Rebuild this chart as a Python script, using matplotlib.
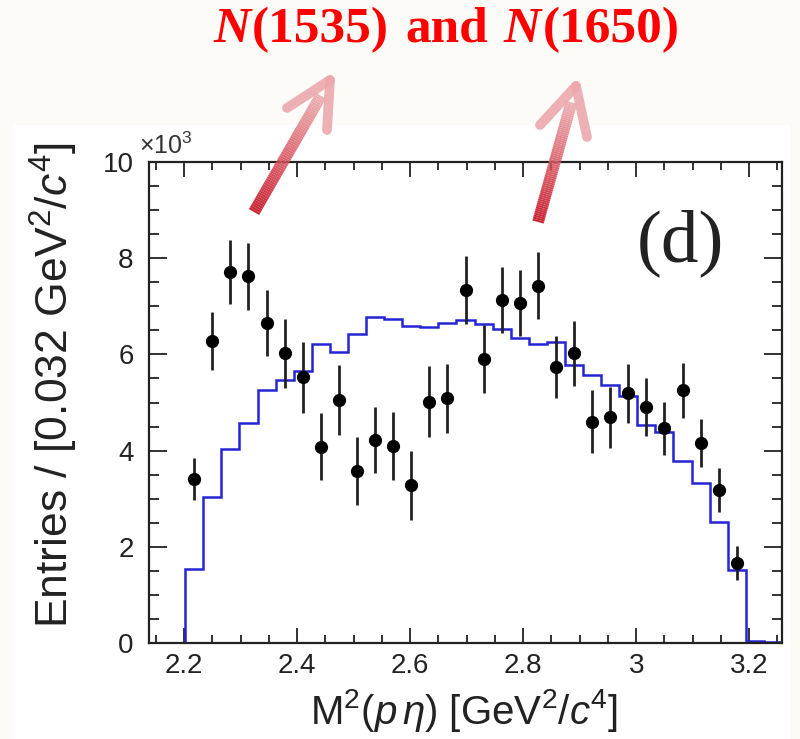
import matplotlib
matplotlib.use("Agg")
import matplotlib.pyplot as plt
import numpy as np
from matplotlib.collections import LineCollection
from matplotlib.colors import to_rgba
from matplotlib.patches import Rectangle

plt.rcParams["font.family"] = ["Liberation Sans", "DejaVu Sans"]
plt.rcParams["mathtext.fontset"] = "custom"
plt.rcParams["mathtext.rm"] = "Liberation Sans"
plt.rcParams["mathtext.it"] = "Liberation Sans:italic"

# M^2(p eta) binning: 35 bins of 0.032 GeV^2/c^4
bin_lo = 2.138
bin_width = 0.032
n_bins = 35

# phase-space MC (blue histogram), entries x10^3 per bin
mc_counts = [0.0, 0.0, 1.54, 3.04, 4.03, 4.58, 5.27, 5.46, 5.66, 6.21,
             6.06, 6.42, 6.77, 6.73, 6.60, 6.58, 6.65, 6.72, 6.63, 6.52,
             6.35, 6.22, 6.26, 5.78, 5.57, 5.37, 5.14, 4.53, 4.39, 3.78,
             3.33, 2.52, 1.52, 0.05, 0.02]

# data points (bins 2..32), entries x10^3 and errors
data_counts = [3.41, 6.28, 7.71, 7.62, 6.65, 6.02, 5.52, 4.08, 5.05, 3.58,
               4.22, 4.10, 3.28, 5.02, 5.09, 7.34, 5.90, 7.13, 7.07, 7.43,
               5.74, 6.02, 4.60, 4.69, 5.19, 4.91, 4.46, 5.25, 4.15, 3.18,
               1.66]
data_errors = [0.43, 0.61, 0.66, 0.69, 0.69, 0.71, 0.74, 0.70, 0.73, 0.71,
               0.69, 0.71, 0.72, 0.73, 0.72, 0.70, 0.71, 0.69, 0.69, 0.69,
               0.65, 0.68, 0.66, 0.64, 0.62, 0.60, 0.55, 0.58, 0.50, 0.45,
               0.36]
first_data_bin = 2

x_ticks = [2.2, 2.4, 2.6, 2.8, 3.0, 3.2]
x_tick_labels = ["2.2", "2.4", "2.6", "2.8", "3", "3.2"]
y_ticks = [0, 2, 4, 6, 8, 10]

W, H = 800, 739
BG = "#fdfbf7"


def px(x, y):
    """Pixel position (from top-left) to figure fraction."""
    return x / W, 1 - y / H


fig = plt.figure(figsize=(W / 100, H / 100), dpi=100, facecolor=BG)

# white panel holding the plot
fig.patches.append(Rectangle(px(13, 739), (790 - 13) / W, (739 - 125) / H,
                             transform=fig.transFigure, facecolor="white",
                             edgecolor="none", zorder=-5))

ax_l, ax_r, ax_t, ax_b = 149, 782, 162, 643
ax = fig.add_axes([ax_l / W, 1 - ax_b / H, (ax_r - ax_l) / W, (ax_b - ax_t) / H])
ax.set_facecolor("white")

edges = bin_lo + bin_width * np.arange(n_bins + 1)
centers = 0.5 * (edges[:-1] + edges[1:])
ax.stairs(mc_counts, edges, color="#2424d4", linewidth=1.8, zorder=2)

xd = centers[first_data_bin:first_data_bin + len(data_counts)]
ax.errorbar(xd, data_counts, yerr=data_errors, fmt="o", color="black",
            ecolor="#222222", elinewidth=2.0, capsize=0, markersize=8.5,
            zorder=3)

ax.set_xlim(edges[0], edges[-1])
ax.set_ylim(0, 10)
ax.set_xticks(x_ticks)
ax.set_xticklabels(x_tick_labels)
ax.set_yticks(y_ticks)
ax.xaxis.set_minor_locator(matplotlib.ticker.MultipleLocator(0.05))
ax.yaxis.set_minor_locator(matplotlib.ticker.MultipleLocator(0.5))
ax.tick_params(which="both", direction="in", top=True, right=True,
               width=1.3, color="#222222", labelsize=20, labelcolor="#222222")
ax.tick_params(which="major", axis="y", length=13, pad=11)
ax.tick_params(which="minor", axis="y", length=7)
ax.tick_params(which="major", axis="x", length=11, pad=7)
ax.tick_params(which="minor", axis="x", length=6)
for s in ax.spines.values():
    s.set_linewidth(1.6)
    s.set_color("#222222")

fig.text(*px(139, 146), r"$\times10^{3}$", fontsize=18, color="#333333",
         ha="left", va="center")

fig.text(*px(464, 710), r"M$^{2}$($p\,\eta$) [GeV$^{2}$/$c^{4}$]",
         fontsize=29, color="#222222", ha="center", va="center")
fig.text(*px(54, 385), r"Entries / [0.032 GeV$^{2}$/$c^{4}$]",
         fontsize=32, color="#222222", ha="center", va="center",
         rotation=90)

ax.text(0.84, 0.83, "(d)", transform=ax.transAxes, fontsize=54,
        family="Liberation Serif", color="#222222", ha="center", va="center")

# red title, drawn piece by piece so the N can be bold italic
runs = [("N", "italic"), ("(1535)", "normal"), ("and", "normal"),
        ("N", "italic"), ("(1650)", "normal")]
gaps = [2, 16, 16, 2]
renderer = fig.canvas.get_renderer()
texts = []
for s, style in runs:
    t = fig.text(0, 0, s, fontsize=40, family="Liberation Serif",
                 weight="bold", style=style, color="#ff0000",
                 ha="left", va="center")
    texts.append(t)
widths = [t.get_window_extent(renderer).width for t in texts]
scale = (680 - 213 - sum(gaps)) / sum(widths)
for t in texts:
    t.set_fontsize(40 * scale)
widths = [t.get_window_extent(renderer).width for t in texts]
x0 = 213
for t, w, g in zip(texts, widths, gaps + [0]):
    t.set_position(px(x0, 30))
    x0 += w + g

# gradient arrows pointing up toward the title
overlay = fig.add_axes([0, 0, 1, 1], facecolor="none")
overlay.set_xlim(0, W)
overlay.set_ylim(H, 0)
overlay.axis("off")

dark = np.array(to_rgba("#c40d1e"))
light = np.array(to_rgba("#eca8ad"))
arrows = [((254, 212), (330, 80), (287, 108), (327, 130)),
          ((538, 222), (576, 86), (540, 125), (587, 137))]
for tail, tip, barb1, barb2 in arrows:
    n = 60
    xs = np.linspace(tail[0], tip[0] - 0.12 * (tip[0] - tail[0]), n + 1)
    ys = np.linspace(tail[1], tip[1] - 0.12 * (tip[1] - tail[1]), n + 1)
    segs = [[(xs[i], ys[i]), (xs[i + 1], ys[i + 1])] for i in range(n)]
    f = np.linspace(0, 1, n)[:, None]
    cols = dark * (1 - f) + light * f
    cols[:, 3] = 0.9
    overlay.add_collection(LineCollection(segs, colors=cols, linewidths=8.5,
                                          capstyle="butt", zorder=5))
    for b in (barb1, barb2):
        overlay.plot([b[0], tip[0]], [b[1], tip[1]], color=light, alpha=0.9,
                     linewidth=7, solid_capstyle="round", zorder=5)

fig.savefig("out.png", dpi=100, facecolor=BG)
